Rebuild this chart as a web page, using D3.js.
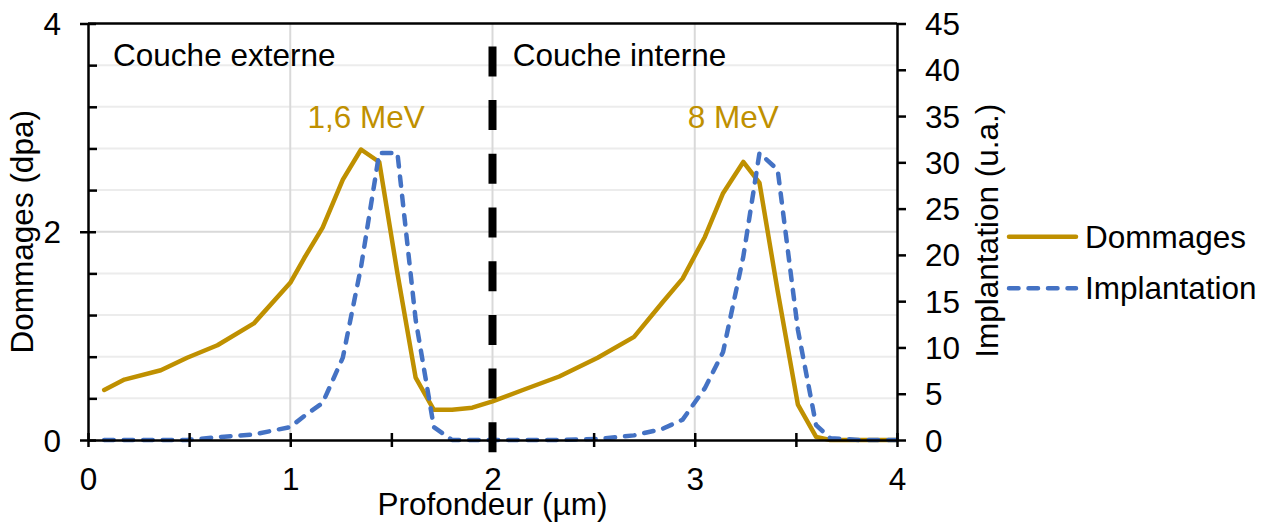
<!DOCTYPE html>
<html>
<head>
<meta charset="utf-8">
<script src="https://cdn.jsdelivr.net/npm/d3@7"></script>
<style>
  html, body { margin: 0; padding: 0; background: #fff; }
  svg { display: block; font-family: "Liberation Sans", Arial, sans-serif; }
</style>
</head>
<body>
<svg id="chart" width="1266" height="524"></svg>
<script>
// Profondeur (µm)
const depth = [0.08, 0.18, 0.36, 0.49, 0.64, 0.82, 1.00, 1.07, 1.16, 1.26, 1.35, 1.44, 1.53, 1.62, 1.71, 1.80, 1.90,
               2.00, 2.15, 2.33, 2.52, 2.70, 2.84, 2.94, 3.05, 3.14, 3.24, 3.32, 3.41, 3.51, 3.60, 3.67, 3.82, 4.00];
// Dommages (dpa)
const dommages = [0.48, 0.58, 0.67, 0.79, 0.91, 1.12, 1.51, 1.75, 2.04, 2.50, 2.79, 2.67, 1.60, 0.60, 0.29, 0.29, 0.31,
                  0.37, 0.48, 0.61, 0.79, 0.99, 1.32, 1.55, 1.95, 2.37, 2.67, 2.47, 1.43, 0.34, 0.03, 0.00, 0.00, 0.00];
// Implantation (u.a.)
const implantation = [0.0, 0.0, 0.0, 0.0, 0.3, 0.6, 1.4, 2.6, 4.0, 8.9, 18.7, 31.0, 31.0, 13.0, 1.4, 0.0, 0.0,
                      0.0, 0.0, 0.0, 0.1, 0.5, 1.2, 2.2, 5.6, 9.5, 19.8, 31.0, 29.2, 11.9, 1.6, 0.2, 0.0, 0.0];

const xTicks = [0, 0.5, 1, 1.5, 2, 2.5, 3, 3.5, 4];
const xTickLabels = ["0", "", "1", "", "2", "", "3", "", "4"];
const yLeftTicks = [0, 0.4, 0.8, 1.2, 1.6, 2, 2.4, 2.8, 3.2, 3.6, 4];
const yLeftTickLabels = ["0", "", "", "", "", "2", "", "", "", "", "4"];
const yRightTicks = [0, 5, 10, 15, 20, 25, 30, 35, 40, 45];

const seriesNames = ["Dommages", "Implantation"];
const energyLabels = [{ text: "1,6 MeV", depth: 1.375 }, { text: "8 MeV", depth: 3.19 }];
const layerLabels = [{ text: "Couche externe", depth: 0.124 }, { text: "Couche interne", depth: 2.10 }];
const boundary = { depth: 2, from: -0.125, to: 3.78 };

const GOLD = "#BF9000", BLUE = "#4472C4", FS = 31.5;

const svg = d3.select("#chart");
const plotLeft = 88, plotRight = 897, plotTop = 23.5, plotBottom = 440;

const x = d3.scaleLinear().domain([0, 4]).range([plotLeft, plotRight]);
const yL = d3.scaleLinear().domain([0, 4]).range([plotBottom, plotTop]);
const yR = d3.scaleLinear().domain([0, 45]).range([plotBottom, plotTop]);

const isMajorY = (i) => yLeftTickLabels[i] !== "";

// grid
const grid = svg.append("g");
yLeftTicks.forEach((t, i) => {
  if (t === 0 || t === 4) return;
  grid.append("line")
    .attr("x1", plotLeft).attr("x2", plotRight)
    .attr("y1", yL(t)).attr("y2", yL(t))
    .attr("stroke", isMajorY(i) ? "#d9d9d9" : "#ececec").attr("stroke-width", 2);
});
[1, 2, 3].forEach(t => {
  grid.append("line")
    .attr("x1", x(t)).attr("x2", x(t))
    .attr("y1", plotTop).attr("y2", plotBottom)
    .attr("stroke", "#d9d9d9").attr("stroke-width", 2);
});

// top border
svg.append("line").attr("x1", plotLeft).attr("x2", plotRight).attr("y1", plotTop).attr("y2", plotTop)
  .attr("stroke", "#000").attr("stroke-width", 2.5);

// series
const lineL = d3.line().x((d, i) => x(depth[i])).y(d => yL(d));
const lineR = d3.line().x((d, i) => x(depth[i])).y(d => yR(d));

svg.append("path").datum(dommages).attr("d", lineL)
  .attr("fill", "none").attr("stroke", GOLD).attr("stroke-width", 4.5)
  .attr("stroke-linejoin", "round").attr("stroke-linecap", "round");

svg.append("path").datum(implantation).attr("d", lineR)
  .attr("fill", "none").attr("stroke", BLUE).attr("stroke-width", 4.5)
  .attr("stroke-linejoin", "round").attr("stroke-linecap", "round")
  .attr("stroke-dasharray", "9.5 10");

// axes
const xAxis = svg.append("g").attr("transform", `translate(0,${plotBottom})`)
  .call(d3.axisBottom(x).tickValues(xTicks).tickFormat((d, i) => xTickLabels[i]).tickSize(7).tickSizeOuter(0));
xAxis.selectAll(".tick line").attr("y1", -7).attr("stroke-width", 2.5);
xAxis.selectAll(".tick text").attr("y", 50).attr("dy", 0).attr("font-size", FS).attr("fill", "#000");

const yAxisL = svg.append("g").attr("transform", `translate(${plotLeft},0)`)
  .call(d3.axisLeft(yL).tickValues(yLeftTicks).tickFormat((d, i) => yLeftTickLabels[i]).tickSize(8).tickSizeOuter(0));
yAxisL.selectAll(".tick line")
  .attr("x1", (d, i) => isMajorY(i) ? 8 : 9)
  .attr("x2", (d, i) => isMajorY(i) ? -8 : 0)
  .attr("stroke-width", 2.5);
yAxisL.selectAll(".tick text").attr("x", -27).attr("dy", "0.35em").attr("font-size", FS).attr("fill", "#000");

const yAxisR = svg.append("g").attr("transform", `translate(${plotRight},0)`)
  .call(d3.axisRight(yR).tickValues(yRightTicks).tickSize(9).tickSizeOuter(0));
yAxisR.selectAll(".tick line").attr("stroke-width", 2.5);
yAxisR.selectAll(".tick text").attr("x", 28).attr("dy", "0.35em").attr("font-size", FS).attr("fill", "#000");

svg.selectAll(".domain").attr("stroke", "#000").attr("stroke-width", 2.5);
svg.selectAll(".tick line").attr("stroke", "#000");

// layer boundary
svg.append("line")
  .attr("x1", x(boundary.depth)).attr("x2", x(boundary.depth))
  .attr("y1", yL(boundary.to)).attr("y2", yL(boundary.from))
  .attr("stroke", "#000").attr("stroke-width", 8)
  .attr("stroke-dasharray", "30 23.7");

// annotations
layerLabels.forEach(l => {
  svg.append("text").attr("x", x(l.depth)).attr("y", 66)
    .attr("font-size", FS).attr("fill", "#000").text(l.text);
});
energyLabels.forEach(l => {
  svg.append("text").attr("x", x(l.depth)).attr("y", yL(3.0))
    .attr("text-anchor", "middle").attr("font-size", FS).attr("fill", GOLD).text(l.text);
});

// axis titles
svg.append("text").attr("x", (plotLeft + plotRight) / 2).attr("y", 515)
  .attr("text-anchor", "middle").attr("font-size", FS).attr("fill", "#000").text("Profondeur (µm)");
svg.append("text").attr("transform", `translate(33,${(plotTop + plotBottom) / 2}) rotate(-90)`)
  .attr("text-anchor", "middle").attr("font-size", FS).attr("fill", "#000").text("Dommages (dpa)");
svg.append("text").attr("transform", `translate(998,${(plotTop + plotBottom) / 2 - 1}) rotate(-90)`)
  .attr("text-anchor", "middle").attr("font-size", FS).attr("fill", "#000").text("Implantation (u.a.)");

// legend
const legend = svg.append("g");
const legendRows = [
  { name: seriesNames[0], color: GOLD, dash: null, y: 236.7 },
  { name: seriesNames[1], color: BLUE, dash: "9.5 10", y: 288.3 }
];
legendRows.forEach(r => {
  legend.append("line").attr("x1", 1009).attr("x2", 1076).attr("y1", r.y).attr("y2", r.y)
    .attr("stroke", r.color).attr("stroke-width", 4.5).attr("stroke-linecap", "round")
    .attr("stroke-dasharray", r.dash);
  legend.append("text").attr("x", 1085).attr("y", r.y).attr("dy", "0.35em")
    .attr("font-size", FS).attr("fill", "#000").text(r.name);
});
</script>
</body>
</html>
